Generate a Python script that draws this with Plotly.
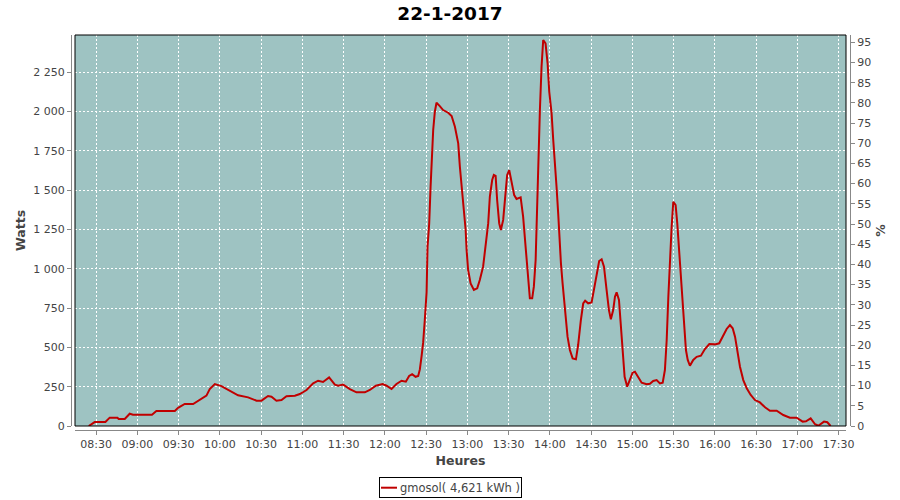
import plotly.graph_objects as go

# ---- data ----
chart_date = "2017-01-22"
chart_title = "22-1-2017"
series_name = "gmosol( 4,621 kWh )"

times = [
    "08:24:42", "08:26:54", "08:29:03", "08:36:50", "08:39:58", "08:45:34", "08:46:30", "08:50:54",
    "08:54:30", "08:56:54", "09:10:42", "09:13:54", "09:27:18", "09:29:42", "09:34:30", "09:40:36",
    "09:46:42", "09:50:18", "09:52:42", "09:56:24", "10:01:12", "10:06:00", "10:13:18", "10:20:36",
    "10:23:18", "10:26:42", "10:30:18", "10:35:06", "10:37:36", "10:41:12", "10:44:54", "10:48:30",
    "10:54:36", "10:58:12", "11:03:06", "11:07:54", "11:11:30", "11:15:06", "11:19:30", "11:23:42",
    "11:26:06", "11:29:42", "11:34:36", "11:39:24", "11:45:30", "11:49:06", "11:53:30", "11:58:24",
    "12:01:18", "12:04:54", "12:08:30", "12:12:12", "12:15:18", "12:17:42", "12:19:54", "12:22:24",
    "12:24:18", "12:25:30", "12:26:42", "12:27:54", "12:29:06", "12:30:24", "12:31:06", "12:32:18",
    "12:33:18", "12:34:12", "12:35:12", "12:36:24", "12:37:36", "12:40:00", "12:42:24", "12:46:06",
    "12:48:36", "12:51:00", "12:53:24", "12:54:36", "12:56:18", "12:57:30", "12:58:48", "12:59:30",
    "13:00:36", "13:02:24", "13:04:48", "13:07:12", "13:09:06", "13:11:30", "13:13:30", "13:15:12",
    "13:16:24", "13:18:06", "13:19:18", "13:20:36", "13:21:42", "13:23:12", "13:24:24", "13:26:06",
    "13:27:48", "13:29:00", "13:30:30", "13:32:12", "13:34:06", "13:35:48", "13:38:48", "13:40:36",
    "13:42:36", "13:44:18", "13:45:30", "13:47:12", "13:48:24", "13:49:42", "13:50:48", "13:51:48",
    "13:52:48", "13:54:00", "13:55:12", "13:56:54", "13:58:24", "13:59:36", "14:01:18", "14:02:30",
    "14:03:42", "14:04:54", "14:06:06", "14:06:48", "14:08:06", "14:09:18", "14:10:30", "14:11:42",
    "14:12:54", "14:14:36", "14:16:36", "14:19:00", "14:20:36", "14:22:36", "14:24:18", "14:25:42",
    "14:27:54", "14:30:24", "14:32:18", "14:34:00", "14:35:54", "14:37:42", "14:39:24", "14:41:18",
    "14:43:00", "14:44:24", "14:46:06", "14:47:24", "14:48:36", "14:50:18", "14:51:42", "14:53:00",
    "14:54:24", "14:56:18", "14:58:18", "15:00:12", "15:01:54", "15:04:18", "15:06:48", "15:10:24",
    "15:12:48", "15:15:12", "15:17:42", "15:20:06", "15:22:06", "15:23:42", "15:25:00", "15:26:12",
    "15:27:24", "15:28:36", "15:29:48", "15:31:30", "15:32:42", "15:34:06", "15:35:24", "15:36:36",
    "15:37:48", "15:39:00", "15:40:18", "15:41:54", "15:44:18", "15:46:48", "15:49:54", "15:52:48",
    "15:56:00", "16:00:06", "16:03:12", "16:05:42", "16:08:36", "16:11:00", "16:13:00", "16:14:42",
    "16:16:18", "16:18:18", "16:20:42", "16:23:12", "16:26:06", "16:29:12", "16:32:48", "16:36:30",
    "16:40:06", "16:45:00", "16:49:48", "16:54:36", "16:59:30", "17:03:54", "17:06:18", "17:09:42",
    "17:12:54", "17:15:18", "17:19:24", "17:21:48", "17:24:12",
]

watts = [
    0, 15, 25, 25, 53, 53, 45, 45,
    78, 72, 72, 95, 95, 116, 140, 140,
    172, 193, 235, 267, 254, 229, 195, 182,
    172, 161, 161, 191, 186, 161, 165, 189,
    193, 203, 229, 271, 288, 280, 309, 263,
    256, 263, 235, 214, 214, 229, 256, 267,
    256, 235, 267, 288, 282, 318, 330, 313,
    318, 360, 440, 530, 674, 850, 1140, 1288,
    1521, 1702, 1882, 1998, 2055, 2034, 2009, 1992,
    1971, 1903, 1797, 1648, 1500, 1373, 1246, 1119,
    992, 907, 865, 875, 928, 1013, 1161, 1288,
    1458, 1564, 1596, 1590, 1437, 1288, 1246, 1310,
    1479, 1596, 1627, 1553, 1468, 1443, 1454, 1331,
    1119, 949, 812, 812, 886, 1055, 1416, 1712,
    2009, 2284, 2454, 2433, 2306, 2125, 1988, 1818,
    1627, 1521, 1352, 1203, 1034, 907, 780, 674,
    568, 483, 430, 424, 515, 674, 780, 797,
    780, 785, 886, 971, 1049, 1060, 1013, 865,
    737, 678, 737, 822, 850, 801, 610, 462,
    313, 250, 303, 339, 345, 313, 275, 265,
    269, 286, 292, 271, 275, 356, 547, 822,
    1076, 1267, 1426, 1405, 1288, 1119, 907, 758,
    610, 483, 420, 383, 420, 440, 447, 489,
    521, 519, 526, 568, 617, 642, 621, 568,
    483, 377, 292, 240, 197, 165, 150, 119,
    97, 97, 70, 53, 53, 28, 30, 49,
    11, 2, 28, 24, 0,
]

watts_ticks = [0, 250, 500, 750, 1000, 1250, 1500, 1750, 2000, 2250]
pct_ticks = list(range(0, 100, 5))
x_start, x_end = "08:14:43", "17:35:24"
watts_max = 2486
pct_max = 96.8

# ---- figure ----
x_vals = [f"{chart_date} {t}" for t in times]
line_color = "#c00000"
label_font = dict(family="DejaVu Sans", size=11, color="#444444")
title_font = dict(family="DejaVu Sans", size=12.5, color="#444444")

fig = go.Figure()
fig.add_trace(go.Scatter(
    x=x_vals, y=watts, mode="lines", name=series_name,
    line=dict(color=line_color, width=2), showlegend=False,
))
# invisible trace carrying the right-hand (%) axis
fig.add_trace(go.Scatter(
    x=[x_vals[0]], y=[0], yaxis="y2", mode="markers",
    marker=dict(opacity=0), showlegend=False, hoverinfo="skip",
))

W, H = 900, 500
ml, mr, mt, mb = 71, 50, 35, 70
pw, ph = W - ml - mr, H - mt - mb
gap = 4

fig.update_layout(
    width=W, height=H,
    margin=dict(l=ml, r=mr, t=mt, b=mb, autoexpand=False),
    paper_bgcolor="white",
    plot_bgcolor="#9ec3c2",
    separators=", ",
    font=dict(family="DejaVu Sans", size=11, color="#444444"),
    title=dict(
        text=f"<b>{chart_title}</b>", x=0.5, xref="container", xanchor="center",
        y=1 - 14 / H, yref="container", yanchor="middle",
        font=dict(family="DejaVu Sans", size=18.5, color="black"),
    ),
    xaxis=dict(
        type="date", automargin=False,
        domain=[gap / pw, 1 - gap / pw],
        anchor="free", position=0,
        range=[f"{chart_date} {x_start}", f"{chart_date} {x_end}"],
        tick0=f"{chart_date} 08:30", dtick=30 * 60 * 1000,
        tickformat="%H:%M",
        showline=True, linecolor="#888888", linewidth=1,
        ticks="outside", ticklen=4, tickcolor="#888888",
        tickfont=label_font,
        showgrid=True, gridcolor="white", gridwidth=1, griddash="2px,2px",
        zeroline=False,
        title=dict(text="<b>Heures</b>", font=title_font, standoff=6),
    ),
    yaxis=dict(
        automargin=False,
        domain=[gap / ph, 1],
        anchor="free", position=0,
        range=[0, watts_max],
        tickvals=watts_ticks, tickformat=",d",
        showline=True, linecolor="#888888", linewidth=1,
        ticks="outside", ticklen=4, tickcolor="#888888",
        tickfont=label_font,
        showgrid=True, gridcolor="white", gridwidth=1, griddash="2px,2px",
        zeroline=False,
        title=dict(text="<b>Watts</b>", font=title_font, standoff=3),
    ),
    yaxis2=dict(
        automargin=False,
        overlaying="y", side="right",
        anchor="free", position=1,
        range=[0, pct_max],
        tickvals=pct_ticks,
        showline=True, linecolor="#888888", linewidth=1,
        ticks="outside", ticklen=4, tickcolor="#888888",
        tickfont=label_font,
        showgrid=False, zeroline=False,
        title=dict(text="<b>%</b>", font=title_font, standoff=6),
    ),
)

# plot-area black border
fig.add_shape(type="rect", xref="x domain", yref="y domain",
              x0=0, x1=1, y0=0, y1=1, line=dict(color="black", width=1),
              fillcolor="rgba(0,0,0,0)", layer="above")

# legend box (bottom centre)
leg_cx, leg_cy = 450.5, 487.5
fig.add_annotation(
    text=series_name, xref="paper", yref="paper",
    x=(leg_cx - ml) / pw, y=(H - mb - leg_cy) / ph,
    xanchor="center", yanchor="middle", showarrow=False,
    width=139, height=17, align="right", valign="middle",
    bordercolor="black", borderwidth=1, borderpad=1, bgcolor="rgba(0,0,0,0)",
    font=dict(family="DejaVu Sans", size=11.5, color="#444444"),
)
fig.add_shape(type="line", xref="paper", yref="paper",
              x0=(381 - ml) / pw, x1=(397 - ml) / pw,
              y0=(H - mb - 487.7) / ph, y1=(H - mb - 487.7) / ph,
              line=dict(color=line_color, width=2), layer="above")

fig.write_html(
    "out.html",
    config={"displayModeBar": False},
    post_script="document.body.style.margin='0';document.body.style.overflow='hidden';",
)
